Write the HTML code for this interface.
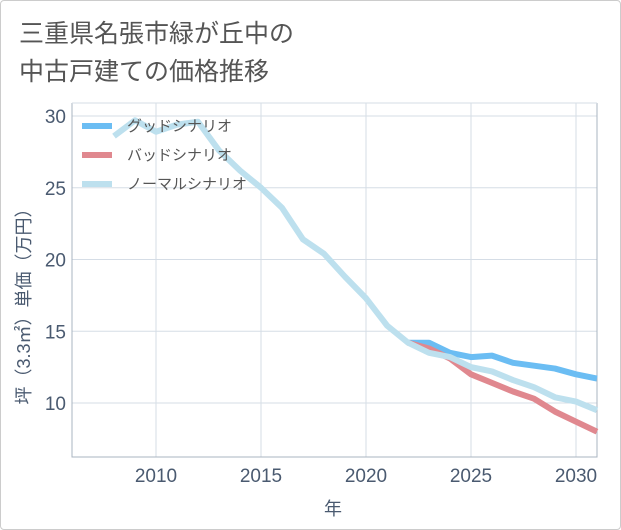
<!DOCTYPE html>
<html><head><meta charset="utf-8">
<style>
body{margin:0;background:#fff;}
#card{position:absolute;left:0;top:0;width:619px;height:528px;border:1px solid #ccc;border-radius:4px;background:#fff;}
.title{position:absolute;left:18px;font-family:"Liberation Sans","Noto Sans CJK JP",sans-serif;font-size:25px;color:#555;white-space:nowrap;}
svg text{font-family:"Liberation Sans","Noto Sans CJK JP",sans-serif;}
</style></head>
<body>
<div id="card">
<div class="title" style="top:13px">三重県名張市緑が丘中の</div>
<div class="title" style="top:51px">中古戸建ての価格推移</div>
</div>
<svg id="chart" width="621" height="530" style="position:absolute;left:0;top:0"></svg>
<script>
const years=[2008,2009,2010,2011,2012,2013,2014,2015,2016,2017,2018,2019,2020,2021,2022,2023,2024,2025,2026,2027,2028,2029,2030,2031];
const normalVals=[28.6,29.7,28.9,29.4,29.6,27.6,26.2,25.0,23.6,21.4,20.4,18.8,17.3,15.4,14.2,13.5,13.2,12.5,12.2,11.6,11.1,10.4,10.1,9.5];
const goodYears=[2022,2023,2024,2025,2026,2027,2028,2029,2030,2031];
const goodVals=[14.2,14.2,13.5,13.2,13.3,12.8,12.6,12.4,12.0,11.7];
const badVals=[14.2,13.8,13.1,12.0,11.4,10.8,10.3,9.4,8.7,8.0];
const xTicks=[2010,2015,2020,2025,2030];
const yTicks=[10,15,20,25,30];
const legendLabels=["グッドシナリオ","バッドシナリオ","ノーマルシナリオ"];
const colors=["#6bbdf3","#e0888f","#bde0ee"];

const svg=document.getElementById('chart');
const NS='http://www.w3.org/2000/svg';
const L=72,R=597,T=103,B=457;
const x=v=>L+(v-2006)*(R-L)/25;
const y=v=>403-(v-10)*(403-116)/20;
function mk(t,a){const e=document.createElementNS(NS,t);for(const k in a)e.setAttribute(k,a[k]);svg.appendChild(e);return e;}

xTicks.forEach(t=>{
  const g=mk('line',{x1:x(t),x2:x(t),y1:T,y2:B,stroke:'#d5dde6','stroke-width':1});
  
  
  const tx=mk('text',{x:x(t),y:482,'text-anchor':'middle','font-size':19,fill:'#4a5a70'});
  tx.textContent=t;
  
  
});
yTicks.forEach(t=>{
  const g=mk('line',{x1:L,x2:R,y1:y(t),y2:y(t),stroke:'#d5dde6','stroke-width':1});
  
  
  const tx=mk('text',{x:66,y:y(t)+7,'text-anchor':'end','font-size':19,fill:'#4a5a70'});
  tx.textContent=t;
  
  
});
const fr=mk('path',{d:`M${L},${T}V${B}H${R}V${T}`,fill:'none',stroke:'#aab4c0','stroke-width':1});


const tp=mk('line',{x1:L,x2:R,y1:T,y2:T,stroke:'#d5dde6','stroke-width':1});



function line(xs,vs,c,name){
  const p=mk('polyline',{points:xs.map((t,i)=>x(t)+','+y(vs[i])).join(' '),fill:'none',stroke:c,'stroke-width':6,'stroke-linejoin':'round'});
  
  
}
line(goodYears,goodVals,colors[0],'good-scenario-line');
line(goodYears,badVals,colors[1],'bad-scenario-line');
line(years,normalVals,colors[2],'normal-scenario-line');

legendLabels.forEach((lb,i)=>{
  const yy=126+i*29;
  const s=mk('line',{x1:82,x2:112,y1:yy,y2:yy,stroke:colors[i],'stroke-width':6});
  
  
  const t=mk('text',{x:127,y:yy+5,'font-size':15,fill:'#555'});
  t.textContent=lb;
  
  
});
const xt=mk('text',{x:333,y:515,'text-anchor':'middle','font-size':18,fill:'#4a5a70'});
xt.textContent='年';


const yt=mk('text',{x:0,y:0,'text-anchor':'middle','font-size':18,fill:'#4a5a70',transform:'translate(30,302) rotate(-90)'});
yt.textContent='坪（3.3㎡）単価（万円）';


</script>
</body></html>
